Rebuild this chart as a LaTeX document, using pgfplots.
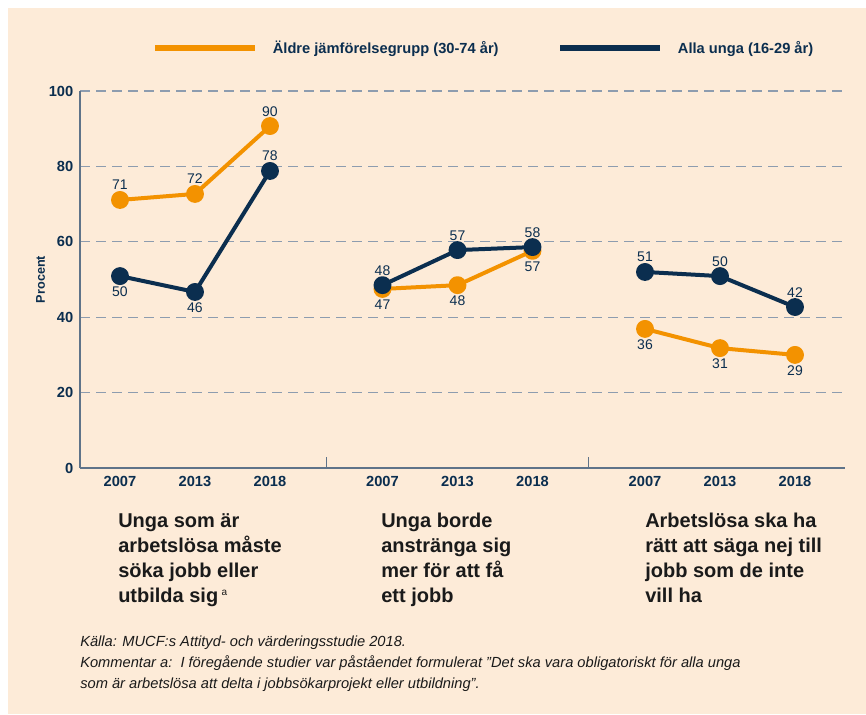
\documentclass[border=0pt]{standalone}
\usepackage{fontspec}
\setmainfont{Liberation Sans}
\usepackage{pgfplots}
\pgfplotsset{compat=1.18}

\definecolor{bg}{HTML}{FDEBD8}
\definecolor{orng}{HTML}{F39200}
\definecolor{navy}{HTML}{0B2E4F}
\definecolor{gridc}{HTML}{8D9CAF}
\definecolor{axc}{HTML}{5F7389}
\definecolor{txt}{HTML}{1A1A1A}

% value labels
\tikzset{
  up/.style={anchor=base, yshift=7.5pt, text=navy, font=\fontsize{10.5}{12}\selectfont},
  dn/.style={anchor=base, yshift=-15.5pt, text=navy, font=\fontsize{10.5}{12}\selectfont},
  cat/.style={anchor=base west, inner sep=0pt, text=txt, font=\bfseries\fontsize{15}{18}\selectfont},
  note/.style={anchor=base west, inner sep=0pt, text=txt, font=\itshape\fontsize{11}{13}\selectfont},
}

\begin{document}
\begin{tikzpicture}
\begin{scope}[x=0.75pt,y=-0.75pt]
  \fill[white] (0,0) rectangle (866,714);
  \fill[bg] (8,8) rectangle (866,714);
\end{scope}

\begin{axis}[
  at={(60pt,-351pt)}, anchor=south west, scale only axis,
  width=573.75pt, height=282.75pt,
  xmin=0.4667, xmax=10.6667, ymin=0, ymax=100,
  axis lines=left,
  axis line style={axc, line width=0.9pt, -},
  ytick={0,20,...,100},
  xtick={1,2,3,4.5,5.5,6.5,8,9,10},
  xticklabels={2007,2013,2018,2007,2013,2018,2007,2013,2018},
  major tick length=0pt,
  ymajorgrids,
  grid style={gridc, line width=0.8pt, dash pattern=on 7.5pt off 4.5pt},
  /pgf/number format/assume math mode=true,
  ticklabel style={text=navy, font=\bfseries\fontsize{11}{13}\selectfont},
  xticklabel style={yshift=-3pt},
  yticklabel style={xshift=-1.5pt},
  ylabel={Procent},
  ylabel style={text=navy, font=\bfseries\fontsize{9.5}{11}\selectfont, yshift=-4pt},
  clip=false,
  legend columns=2,
  legend style={at={(rel axis cs:0.094,1.114)}, anchor=west, draw=none, fill=none,
    inner sep=0pt, font=\bfseries\fontsize{11}{13}\selectfont, text=navy,
    /tikz/every even column/.append style={column sep=33pt},
    nodes={inner xsep=11pt}},
  legend image code/.code={\draw[#1, line width=4.5pt] (0pt,0pt) -- (75pt,0pt);},
  every axis plot/.append style={line width=3pt, mark=*, mark size=5.2pt, line join=round},
]
% separators between groups
\draw[axc, line width=0.8pt] (axis cs:3.75,0) -- (axis cs:3.75,3);
\draw[axc, line width=0.8pt] (axis cs:7.25,0) -- (axis cs:7.25,3);

\addplot[orng, mark options={fill=orng}] coordinates {(1,71.1) (2,72.7) (3,90.7)};
\addlegendentry{Äldre jämförelsegrupp (30-74 år)}
\addplot[navy, mark options={fill=navy}] coordinates {(1,50.9) (2,46.7) (3,78.8)};
\addlegendentry{Alla unga (16-29 år)}

\addplot[orng, mark options={fill=orng}, forget plot] coordinates {(4.5,47.5) (5.5,48.5) (6.5,57.6)};
\addplot[navy, mark options={fill=navy}, forget plot] coordinates {(4.5,48.5) (5.5,57.8) (6.5,58.6)};

\addplot[orng, mark options={fill=orng}, forget plot] coordinates {(8,36.9) (9,31.8) (10,30.0)};
\addplot[navy, mark options={fill=navy}, forget plot] coordinates {(8,52.0) (9,50.9) (10,42.7)};

% value labels, group 1
\node[up] at (axis cs:1,71.1) {71};
\node[up] at (axis cs:2,72.7) {72};
\node[up] at (axis cs:3,90.7) {90};
\node[dn] at (axis cs:1,50.9) {50};
\node[dn] at (axis cs:2,46.7) {46};
\node[up] at (axis cs:3,78.8) {78};
% group 2
\node[dn] at (axis cs:4.5,47.5) {47};
\node[dn] at (axis cs:5.5,48.5) {48};
\node[dn] at (axis cs:6.5,57.6) {57};
\node[up] at (axis cs:4.5,48.5) {48};
\node[up] at (axis cs:5.5,57.8) {57};
\node[up] at (axis cs:6.5,58.6) {58};
% group 3
\node[dn] at (axis cs:8,36.9) {36};
\node[dn] at (axis cs:9,31.8) {31};
\node[dn] at (axis cs:10,30.0) {29};
\node[up] at (axis cs:8,52.0) {51};
\node[up] at (axis cs:9,50.9) {50};
\node[up] at (axis cs:10,42.7) {42};
\end{axis}

\begin{scope}[x=0.75pt,y=-0.75pt]
  % category captions
  \node[cat] at (118,527) {Unga som är};
  \node[cat] at (118,552) {arbetslösa måste};
  \node[cat] at (118,577) {söka jobb eller};
  \node[cat] at (118,602) {utbilda sig\,\raisebox{0.6ex}{\normalfont\fontsize{7.5}{8}\selectfont a}};
  \node[cat] at (381,527) {Unga borde};
  \node[cat] at (381,552) {anstränga sig};
  \node[cat] at (381,577) {mer för att få};
  \node[cat] at (381,602) {ett jobb};
  \node[cat] at (645,527) {Arbetslösa ska ha};
  \node[cat] at (645,552) {rätt att säga nej till};
  \node[cat] at (645,577) {jobb som de inte};
  \node[cat] at (645,602) {vill ha};
  % source notes
  \node[note] at (80,646) {Källa: MUCF:s Attityd- och värderingsstudie 2018.};
  \node[note] at (80,667) {Kommentar a:\ \ I föregående studier var påståendet formulerat ”Det ska vara obligatoriskt för alla unga};
  \node[note] at (80,688) {som är arbetslösa att delta i jobbsökarprojekt eller utbildning”.};
\end{scope}
\end{tikzpicture}
\end{document}
